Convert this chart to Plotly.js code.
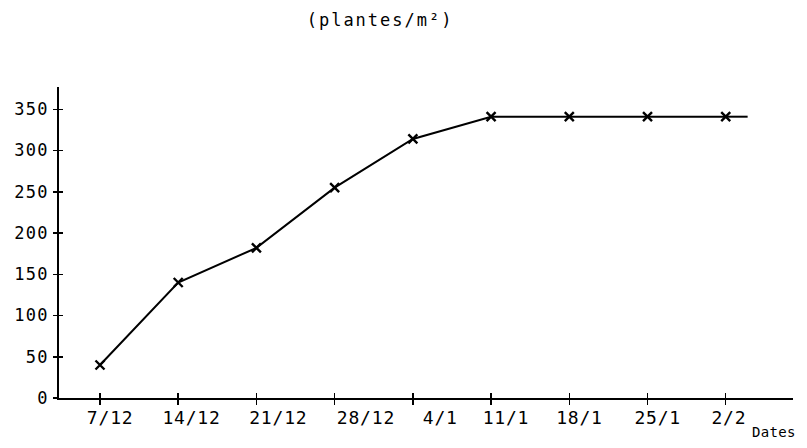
<!DOCTYPE html>
<html>
<head>
<meta charset="utf-8">
<script src="https://cdn.plot.ly/plotly-3.0.1.min.js"></script>
<style>
  body { margin: 0; background: #fff; }
  .x2tick text { letter-spacing: 0.8px; }
  .ytick text { letter-spacing: 1.2px; }
  .gtitle { letter-spacing: 2px; }
  .annotation-text { letter-spacing: 0.3px; }
</style>
</head>
<body>
<div id="chart" style="width:807px;height:448px;"></div>
<script>
// Dates of observation (positions 0..8 on the axis)
const dateLabels = ["7/12", "14/12", "21/12", "28/12", "4/1", "11/1", "18/1", "25/1", "2/2"];
const datePositions = [0, 1, 2, 3, 4, 5, 6, 7, 8];
// Plant density (plantes/m²)
const density = [40, 140, 182, 255, 314, 341, 341, 341, 341];
// The drawn line continues a little past the last observation
const lineTailX = [8, 8.28];
const lineTailY = [341, 341];
// Y tick values
const yTicks = [0, 50, 100, 150, 200, 250, 300, 350];
const yTicksMarked = [50, 100, 150, 200, 250, 300, 350];

// Layout only: the hand-lettered date labels sit a little to the right of their ticks
const labelShift = [0.13, 0.17, 0.28, 0.40, 0.35, 0.19, 0.13, 0.13, 0.04];
const labelPositions = datePositions.map((p, i) => p + labelShift[i]);

const font = "DejaVu Sans Mono, monospace";

const traces = [
  {
    x: datePositions, y: density, type: "scatter", mode: "lines+markers",
    line: { color: "#000", width: 2 },
    marker: { symbol: "x-thin-open", size: 9, color: "#000", line: { color: "#000", width: 2.4 } },
    hoverinfo: "skip", showlegend: false
  },
  {
    x: lineTailX, y: lineTailY, type: "scatter", mode: "lines",
    line: { color: "#000", width: 2 }, hoverinfo: "skip", showlegend: false
  },
  {
    x: datePositions, y: density, type: "scatter", mode: "lines",
    xaxis: "x2", yaxis: "y2", line: { color: "rgba(0,0,0,0)", width: 0 },
    hoverinfo: "skip", showlegend: false
  },
  {
    x: datePositions, y: density, type: "scatter", mode: "lines",
    xaxis: "x3", yaxis: "y2", line: { color: "rgba(0,0,0,0)", width: 0 },
    hoverinfo: "skip", showlegend: false
  }
];

const xr = [-0.524, 8.86];
const yr = [0, 377];

const layout = {
  width: 807, height: 448,
  margin: { l: 59, r: 14, t: 87, b: 50 },
  paper_bgcolor: "#fff", plot_bgcolor: "#fff",
  showlegend: false,
  title: {
    text: "(plantes/m²)", xref: "container", yref: "container",
    x: 0.471, xanchor: "center", y: 0.955, yanchor: "middle",
    font: { family: font, size: 17, color: "#000" }
  },
  xaxis: {
    range: xr, tickmode: "array", tickvals: datePositions, showticklabels: false,
    showgrid: false, zeroline: false, showline: true, linecolor: "#000", linewidth: 2,
    ticks: "outside", ticklen: 5, tickwidth: 1.5, tickcolor: "#000"
  },
  xaxis2: {
    overlaying: "x", anchor: "y", side: "bottom", range: xr,
    tickmode: "array", tickvals: labelPositions, ticktext: dateLabels,
    showgrid: false, zeroline: false, showline: false, ticks: "",
    ticklabelstandoff: 7,
    tickfont: { family: font, size: 18, color: "#000" }
  },
  xaxis3: {
    overlaying: "x", anchor: "y", side: "bottom", range: xr, tickmode: "array", tickvals: datePositions,
    showgrid: false, zeroline: false, showline: false, showticklabels: false,
    ticks: "inside", ticklen: 5, tickwidth: 1.5, tickcolor: "#000"
  },
  yaxis: {
    range: yr, tickmode: "array", tickvals: yTicks, ticktext: yTicks.map(String),
    showgrid: false, zeroline: false, showline: true, linecolor: "#000", linewidth: 2,
    ticks: "outside", ticklen: 4, tickwidth: 1.5, tickcolor: "#000", ticklabelstandoff: 1,
    tickfont: { family: font, size: 17, color: "#000" }
  },
  yaxis2: {
    overlaying: "y", anchor: "x", side: "left", range: yr, tickmode: "array", tickvals: yTicksMarked,
    showgrid: false, zeroline: false, showline: false, showticklabels: false,
    ticks: "inside", ticklen: 4, tickwidth: 1.5, tickcolor: "#000"
  },
  annotations: [{
    text: "Dates", xref: "paper", yref: "paper", x: 1.007, y: -0.109,
    xanchor: "right", yanchor: "middle", showarrow: false,
    font: { family: font, size: 14, color: "#000" }
  }]
};

Plotly.newPlot("chart", traces, layout, { displayModeBar: false, staticPlot: true });
</script>
</body>
</html>
